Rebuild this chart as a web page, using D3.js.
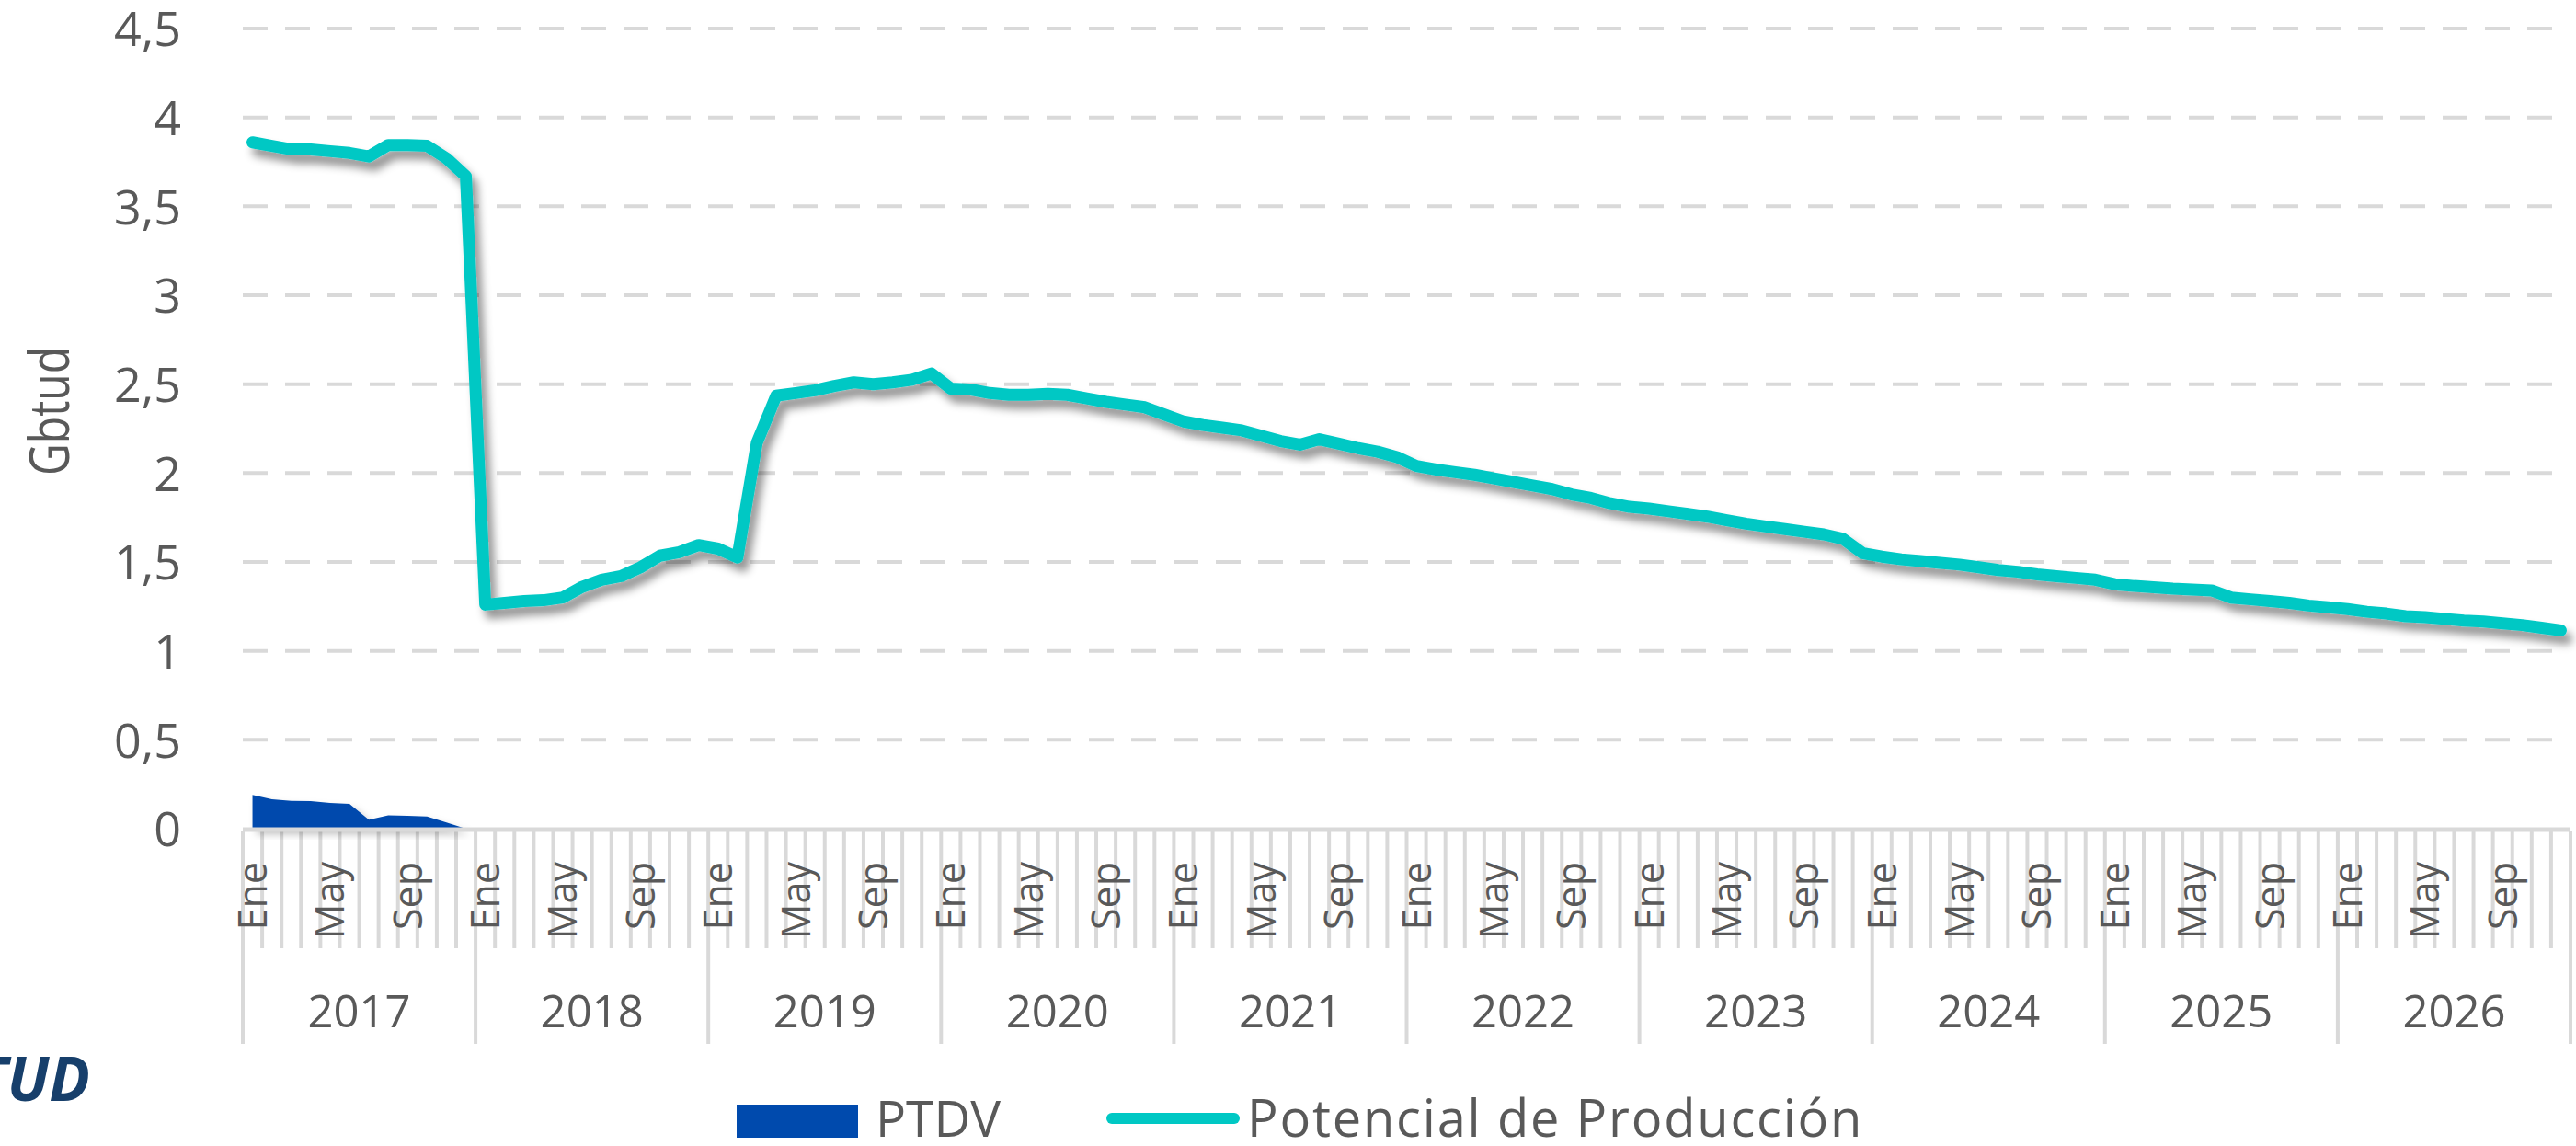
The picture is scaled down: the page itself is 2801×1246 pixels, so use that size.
<!DOCTYPE html>
<html>
<head>
<meta charset="utf-8">
<script src="https://cdn.jsdelivr.net/npm/d3@7"></script>
<style>
  html, body { margin: 0; padding: 0; background: #ffffff; overflow: hidden; }
  svg { display: block; }
  text { font-family: "Open Sans", "Noto Sans", sans-serif; fill: #595959; }
</style>
</head>
<body>
<svg id="chart" width="2801" height="1246"></svg>
<script>
// ---------------- DATA ----------------
const years = [2017, 2018, 2019, 2020, 2021, 2022, 2023, 2024, 2025, 2026];
const monthNames = ["Ene","Feb","Mar","Abr","May","Jun","Jul","Ago","Sep","Oct","Nov","Dic"];
const shownMonths = ["Ene", "May", "Sep"];
const yTicks = [0, 0.5, 1, 1.5, 2, 2.5, 3, 3.5, 4, 4.5];

// Potencial de Producción (Gbtud), monthly Jan 2017 - Dec 2026
const potencial2017 = [3.86, 3.84, 3.82, 3.82, 3.81, 3.80, 3.78, 3.845, 3.845, 3.84, 3.77, 3.67];
const potencial2018 = [1.26, 1.27, 1.28, 1.285, 1.30, 1.36, 1.40, 1.42, 1.47, 1.535, 1.555, 1.595];
const potencial2019 = [1.575, 1.525, 2.17, 2.435, 2.45, 2.465, 2.49, 2.51, 2.50, 2.51, 2.525, 2.56];
const potencial2020 = [2.475, 2.47, 2.45, 2.44, 2.44, 2.445, 2.44, 2.42, 2.40, 2.385, 2.37, 2.33];
const potencial2021 = [2.29, 2.27, 2.255, 2.24, 2.21, 2.18, 2.16, 2.19, 2.165, 2.14, 2.12, 2.09];
const potencial2022 = [2.04, 2.02, 2.005, 1.99, 1.97, 1.95, 1.93, 1.91, 1.88, 1.86, 1.83, 1.81];
const potencial2023 = [1.80, 1.785, 1.77, 1.755, 1.735, 1.715, 1.70, 1.685, 1.67, 1.655, 1.63, 1.55];
const potencial2024 = [1.53, 1.515, 1.505, 1.495, 1.485, 1.47, 1.455, 1.445, 1.43, 1.42, 1.41, 1.40];
const potencial2025 = [1.375, 1.365, 1.358, 1.35, 1.345, 1.34, 1.30, 1.29, 1.28, 1.27, 1.255, 1.245];
const potencial2026 = [1.235, 1.22, 1.21, 1.195, 1.19, 1.18, 1.17, 1.165, 1.155, 1.145, 1.13, 1.115];

// PTDV (Gbtud), monthly 2017
const ptdv2017 = [0.19, 0.165, 0.157, 0.155, 0.145, 0.14, 0.05, 0.075, 0.072, 0.068, 0.035, 0.0];

// ---------------- BUILD ----------------
const categories = [];
years.forEach(yr => monthNames.forEach((m, mi) => categories.push({ key: yr + "-" + mi, year: yr, month: m })));
const potencial = [].concat(potencial2017, potencial2018, potencial2019, potencial2020, potencial2021,
                            potencial2022, potencial2023, potencial2024, potencial2025, potencial2026);
const potData = potencial.map((v, i) => ({ key: categories[i].key, v }));
const ptdvData = ptdv2017.map((v, i) => ({ key: categories[i].key, v }));

const svg = d3.select("#chart");
const L = 264, R = 2795, T = 31, B = 901;

const x = d3.scaleBand().domain(categories.map(d => d.key)).range([L, R]).paddingInner(0).paddingOuter(0);
const y = d3.scaleLinear().domain([0, 4.5]).range([B, T]);
const cx = k => x(k) + x.bandwidth() / 2;

// shadow filters
const defs = svg.append("defs");
const f = defs.append("filter").attr("id", "shadow").attr("x", "-5%").attr("y", "-10%").attr("width", "110%").attr("height", "130%");
f.append("feDropShadow").attr("dx", 6).attr("dy", 9).attr("stdDeviation", 5)
  .attr("flood-color", "#000").attr("flood-opacity", 0.42);
const f2 = defs.append("filter").attr("id", "shadow2").attr("x", "-10%").attr("y", "-30%").attr("width", "130%").attr("height", "160%");
f2.append("feDropShadow").attr("dx", 5).attr("dy", 6).attr("stdDeviation", 4)
  .attr("flood-color", "#000").attr("flood-opacity", 0.25);

// gridlines
const grid = svg.append("g").attr("class", "grid");
grid.selectAll("line").data(yTicks.filter(t => t > 0)).join("line")
  .attr("x1", L).attr("x2", R)
  .attr("y1", d => y(d)).attr("y2", d => y(d))
  .attr("stroke", "#d9d9d9").attr("stroke-width", 4).attr("stroke-dasharray", "27,19");

// Y axis labels
const yAxis = d3.axisLeft(y).tickValues(yTicks).tickSize(0).tickPadding(0)
  .tickFormat(d => String(d).replace(".", ","));
const gy = svg.append("g").attr("transform", `translate(197,0)`).call(yAxis);
gy.select(".domain").remove();
gy.selectAll("text").attr("font-size", 52).attr("fill", "#595959")
  .style("font-family", '"Open Sans", sans-serif').attr("dy", "0.36em");

// Y axis title
svg.append("text").attr("transform", `translate(75,447) rotate(-90)`)
  .attr("text-anchor", "middle").attr("font-size", 60)
  .attr("textLength", 140).attr("lengthAdjust", "spacingAndGlyphs").text("Gbtud");

// X axis: month ticks
const gx = svg.append("g");
gx.selectAll("line.mt").data(categories).join("line").attr("class", "mt")
  .attr("x1", d => x(d.key)).attr("x2", d => x(d.key))
  .attr("y1", 903).attr("y2", d => d.month === "Ene" ? 1135 : 1031)
  .attr("stroke", "#d9d9d9").attr("stroke-width", 4);
gx.append("line").attr("x1", R).attr("x2", R).attr("y1", 903).attr("y2", 1135)
  .attr("stroke", "#d9d9d9").attr("stroke-width", 4);

// month labels
gx.selectAll("text.ml").data(categories.filter(d => shownMonths.includes(d.month))).join("text").attr("class", "ml")
  .attr("transform", d => `translate(${cx(d.key)},937) rotate(-90)`)
  .attr("text-anchor", "end").attr("dy", "0.36em").attr("font-size", 43)
  .text(d => d.month);

// year labels
gx.selectAll("text.yl").data(years).join("text").attr("class", "yl")
  .attr("x", yr => (x(yr + "-0") + x(yr + "-11") + x.bandwidth()) / 2)
  .attr("y", 1117).attr("text-anchor", "middle").attr("font-size", 49)
  .text(yr => yr);

// area PTDV
const area = d3.area().x(d => cx(d.key)).y0(y(0)).y1(d => y(d.v));
svg.append("path").datum(ptdvData).attr("d", area).attr("fill", "#004AAD").attr("filter", "url(#shadow2)");

// axis line
svg.append("line").attr("x1", L).attr("x2", R).attr("y1", 902).attr("y2", 902)
  .attr("stroke", "#d9d9d9").attr("stroke-width", 5);

// line Potencial
const line = d3.line().x(d => cx(d.key)).y(d => y(d.v));
svg.append("path").datum(potData).attr("d", line).attr("fill", "none")
  .attr("stroke", "#00C8C4").attr("stroke-width", 13)
  .attr("stroke-linejoin", "round").attr("stroke-linecap", "round")
  .attr("filter", "url(#shadow)");

// TUD fragment (cut at left edge, as in the reference)
svg.append("text").attr("x", 98).attr("y", 1197).attr("text-anchor", "end")
  .attr("font-size", 66).attr("font-weight", "bold").attr("font-style", "italic")
  .style("fill", "#173F6B").text("TUD");

// legend
const lg = svg.append("g");
lg.append("rect").attr("x", 801).attr("y", 1201).attr("width", 132).attr("height", 36).attr("fill", "#004AAD");
lg.append("text").attr("x", 952).attr("y", 1236).attr("font-size", 55).text("PTDV");
lg.append("line").attr("x1", 1209).attr("x2", 1342).attr("y1", 1216).attr("y2", 1216)
  .attr("stroke", "#00C8C4").attr("stroke-width", 12).attr("stroke-linecap", "round");
lg.append("text").attr("x", 1356).attr("y", 1236).attr("font-size", 56).attr("letter-spacing", 1.8)
  .text("Potencial de Producción");
</script>
</body>
</html>
